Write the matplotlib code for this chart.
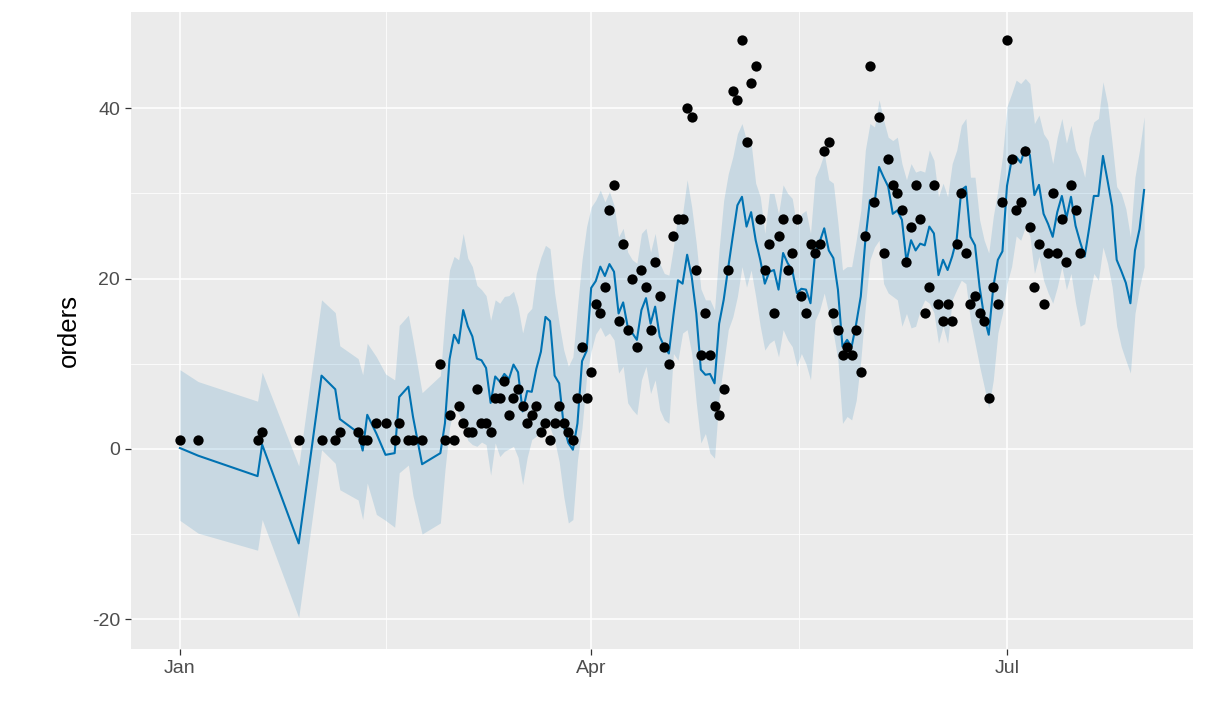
import numpy as np
import pandas as pd
import matplotlib
matplotlib.use("Agg")
import matplotlib.pyplot as plt
import matplotlib.dates as mdates

plt.rcParams['font.family'] = ['Liberation Sans', 'DejaVu Sans']
plt.rcParams['axes.unicode_minus'] = False

# observed days (offset from Jan 1) and orders
obs_day = [0, 4, 17, 18, 26, 31, 34, 35, 39, 40, 41, 43, 45, 47, 48, 50, 51, 53] + list(range(57, 198))
obs_orders = [1, 1, 1, 2, 1, 1, 1, 2, 2, 1, 1, 3, 3, 1, 3, 1, 1, 1,
              10, 1, 4, 1, 5, 3, 2, 2, 7, 3,
              3, 2, 6, 6, 8, 4, 6, 7, 5, 3,
              4, 5, 2, 3, 1, 3, 5, 3, 2, 1,
              6, 12, 6, 9, 17, 16, 19, 28, 31, 15,
              24, 14, 20, 12, 21, 19, 14, 22, 18, 12,
              10, 25, 27, 27, 40, 39, 21, 11, 16, 11,
              5, 4, 7, 21, 42, 41, 48, 36, 43, 45,
              27, 21, 24, 16, 25, 27, 21, 23, 27, 18,
              16, 24, 23, 24, 35, 36, 16, 14, 11, 12,
              11, 14, 9, 25, 45, 29, 39, 23, 34, 31,
              30, 28, 22, 26, 31, 27, 16, 19, 31, 17,
              15, 17, 15, 24, 30, 23, 17, 18, 16, 15,
              6, 19, 17, 29, 48, 34, 28, 29, 35, 26,
              19, 24, 17, 23, 30, 23, 27, 22, 31, 28,
              23]

# forecast days: history days plus 14 future days
fc_day = obs_day + list(range(198, 212))
yhat = [0.1, -0.8, -3.2, 0.5, -11.1, 8.6, 7.0, 3.5, 1.9, -0.2, 4.0, 1.8, -0.7, -0.5, 6.1, 7.3, 3.8, -1.8,
        -0.5, 3.0, 10.5, 13.4, 12.4, 16.3, 14.4, 13.2, 10.6, 10.4,
        9.5, 5.4, 8.5, 7.9, 8.8, 8.2, 9.9, 9.0, 4.4, 6.8,
        6.7, 9.4, 11.4, 15.5, 15.0, 8.6, 7.7, 2.7, 0.7, -0.1,
        3.0, 10.3, 11.5, 18.9, 19.7, 21.4, 20.3, 21.7, 20.8, 15.9,
        17.2, 14.3, 13.6, 12.8, 16.3, 17.7, 14.7, 16.7, 13.2, 12.0,
        11.2, 15.7, 19.8, 19.4, 22.8, 20.2, 15.9, 9.3, 8.7, 8.8,
        7.7, 14.7, 17.5, 21.3, 25.0, 28.6, 29.6, 26.1, 27.8, 24.5,
        22.2, 19.4, 20.8, 21.0, 18.7, 23.0, 21.8, 21.0, 18.3, 18.8,
        18.7, 17.1, 23.0, 24.3, 25.9, 23.3, 22.4, 18.7, 12.0, 12.8,
        12.0, 14.7, 17.9, 24.5, 29.2, 28.8, 33.1, 31.9, 30.8, 27.6,
        28.0, 26.9, 22.0, 24.5, 23.3, 24.1, 23.9, 26.1, 25.3, 20.4,
        22.2, 21.0, 22.6, 24.7, 30.4, 30.8, 24.9, 23.9, 19.0, 15.5,
        13.4, 19.0, 22.2, 23.2, 30.9, 33.9, 34.3, 33.6, 35.4, 34.5,
        29.8, 31.0, 27.6, 26.4, 24.9, 27.8, 29.7, 27.1, 29.6, 26.2,
        24.3, 22.6, 26.0, 29.7, 29.7, 34.4, 31.5, 28.5, 22.2, 20.9,
        19.5, 17.1, 23.3, 25.8, 30.4]
yhat_upper = [9.3, 7.9, 5.6, 9.0, -2.0, 17.5, 16.0, 12.1, 10.6, 8.7, 12.4, 10.8, 8.8, 8.1, 14.5, 15.7, 12.8, 6.6,
              8.6, 15.5, 21.0, 22.6, 22.2, 25.3, 22.4, 21.4, 19.2, 18.7,
              18.0, 15.1, 17.5, 17.1, 17.9, 18.0, 18.5, 16.7, 13.6, 15.9,
              16.5, 20.6, 22.5, 23.9, 23.5, 18.3, 14.7, 11.6, 9.7, 10.8,
              16.7, 22.2, 26.1, 28.4, 29.2, 30.4, 29.0, 30.2, 28.6, 24.9,
              25.9, 23.1, 22.2, 21.8, 25.3, 25.9, 23.1, 25.3, 21.8, 20.6,
              20.4, 23.7, 27.6, 27.6, 31.6, 28.4, 24.1, 18.8, 17.5, 17.5,
              16.3, 23.5, 29.2, 32.3, 34.3, 37.0, 38.2, 36.2, 35.9, 31.2,
              29.6, 25.3, 30.0, 30.0, 27.6, 31.0, 30.0, 29.4, 26.1, 27.6,
              28.0, 25.3, 31.9, 33.1, 34.7, 31.6, 31.2, 26.5, 21.0, 21.4,
              21.4, 24.5, 28.0, 35.1, 38.2, 37.8, 41.0, 38.6, 36.6, 36.2,
              36.6, 33.5, 31.6, 33.5, 32.5, 32.7, 32.5, 35.1, 33.9, 29.6,
              31.2, 29.6, 33.5, 35.1, 38.0, 38.8, 31.9, 31.9, 26.9, 24.5,
              23.0, 27.3, 30.4, 34.3, 40.2, 41.7, 43.3, 42.9, 43.5, 42.9,
              38.2, 39.2, 37.0, 36.2, 33.5, 36.6, 38.8, 35.9, 38.0, 35.1,
              33.9, 31.9, 36.6, 38.4, 38.8, 43.1, 40.5, 35.9, 30.8, 30.0,
              28.2, 24.9, 31.9, 35.1, 39.0]
yhat_lower = [-8.4, -9.9, -11.9, -8.3, -19.8, -0.1, -1.7, -4.8, -6.0, -8.3, -4.0, -7.7, -8.4, -9.2, -2.8, -1.9, -5.5, -10.0,
              -8.7, -2.5, 2.5, 5.0, 4.2, 3.0, 1.0, 0.5, 0.3, 0.8,
              0.5, -3.1, 0.7, -0.9, -0.3, 0.0, 0.3, -1.0, -4.2, -1.0,
              1.1, 1.5, 2.0, 3.4, 2.5, 1.0, -1.5, -5.6, -8.7, -8.3,
              -1.3, 2.5, 8.5, 11.5, 13.5, 14.3, 13.2, 13.6, 12.8, 8.9,
              9.7, 5.4, 4.6, 4.0, 8.1, 9.7, 6.5, 8.1, 4.6, 3.4,
              3.0, 11.2, 10.4, 13.6, 14.0, 11.2, 5.4, 0.7, 1.8, -0.5,
              -1.1, 6.1, 10.0, 14.0, 15.5, 17.9, 21.4, 19.0, 21.0, 17.9,
              14.4, 11.6, 12.4, 12.8, 10.8, 14.0, 12.8, 12.0, 9.7, 11.2,
              10.0, 8.1, 15.1, 16.3, 18.3, 15.9, 13.6, 10.4, 3.0, 3.8,
              3.4, 5.7, 10.4, 16.7, 22.2, 23.7, 24.5, 19.4, 18.3, 17.9,
              17.5, 14.4, 15.9, 14.2, 14.4, 16.3, 17.5, 17.1, 16.0, 12.4,
              14.4, 12.4, 17.5, 18.7, 19.8, 19.4, 15.1, 12.4, 9.7, 7.3,
              4.8, 8.1, 13.6, 15.9, 19.4, 21.4, 25.0, 24.5, 26.1, 25.0,
              20.6, 22.6, 19.8, 18.3, 17.1, 19.0, 21.4, 18.7, 20.6, 17.1,
              14.4, 14.7, 17.9, 20.6, 19.8, 23.7, 21.8, 19.0, 14.4, 12.0,
              10.4, 8.9, 15.9, 19.0, 21.4]

start = pd.Timestamp('2017-01-01')
obs_ds = start + pd.to_timedelta(obs_day, unit='D')
fc_ds = start + pd.to_timedelta(fc_day, unit='D')

fig = plt.figure(figsize=(12.06, 7.08), dpi=100)
ax = fig.add_axes([131 / 1206, 1 - 649 / 708, (1193 - 131) / 1206, (649 - 12) / 708])
ax.set_facecolor('#EBEBEB')

# ggplot-like grid
major_x = [pd.Timestamp('2017-01-01'), pd.Timestamp('2017-04-01'), pd.Timestamp('2017-07-01')]
minor_x = [major_x[0] + (major_x[1] - major_x[0]) / 2, major_x[1] + (major_x[2] - major_x[1]) / 2]
ax.set_xticks(major_x)
ax.set_xticklabels(['Jan', 'Apr', 'Jul'])
ax.set_xticks(minor_x, minor=True)
ax.set_yticks([-20, 0, 20, 40])
ax.set_yticks([-10, 10, 30], minor=True)
ax.grid(which='major', color='white', linewidth=1.1)
ax.grid(which='minor', color='white', linewidth=0.55)
ax.set_axisbelow(True)

ax.fill_between(fc_ds, yhat_lower, yhat_upper, color='#0072B2', alpha=0.15, linewidth=0)
ax.plot(fc_ds, yhat, color='#0072B2', linewidth=1.5)
ax.scatter(obs_ds, obs_orders, s=55, color='black', zorder=3, linewidths=0)

ax.set_xlim(start - pd.Timedelta(days=10.7), start + pd.Timedelta(days=221.7))
ax.set_ylim(-23.5, 51.3)

for s in ax.spines.values():
    s.set_visible(False)
ax.tick_params(which='major', length=4, width=0.9, color='#333333', labelcolor='#4D4D4D',
               labelsize=14, pad=4)
ax.tick_params(which='minor', length=0)
ax.set_ylabel('orders', fontsize=18.5, color='black', labelpad=8)

fig.savefig('out.png', dpi=100, facecolor='white')
